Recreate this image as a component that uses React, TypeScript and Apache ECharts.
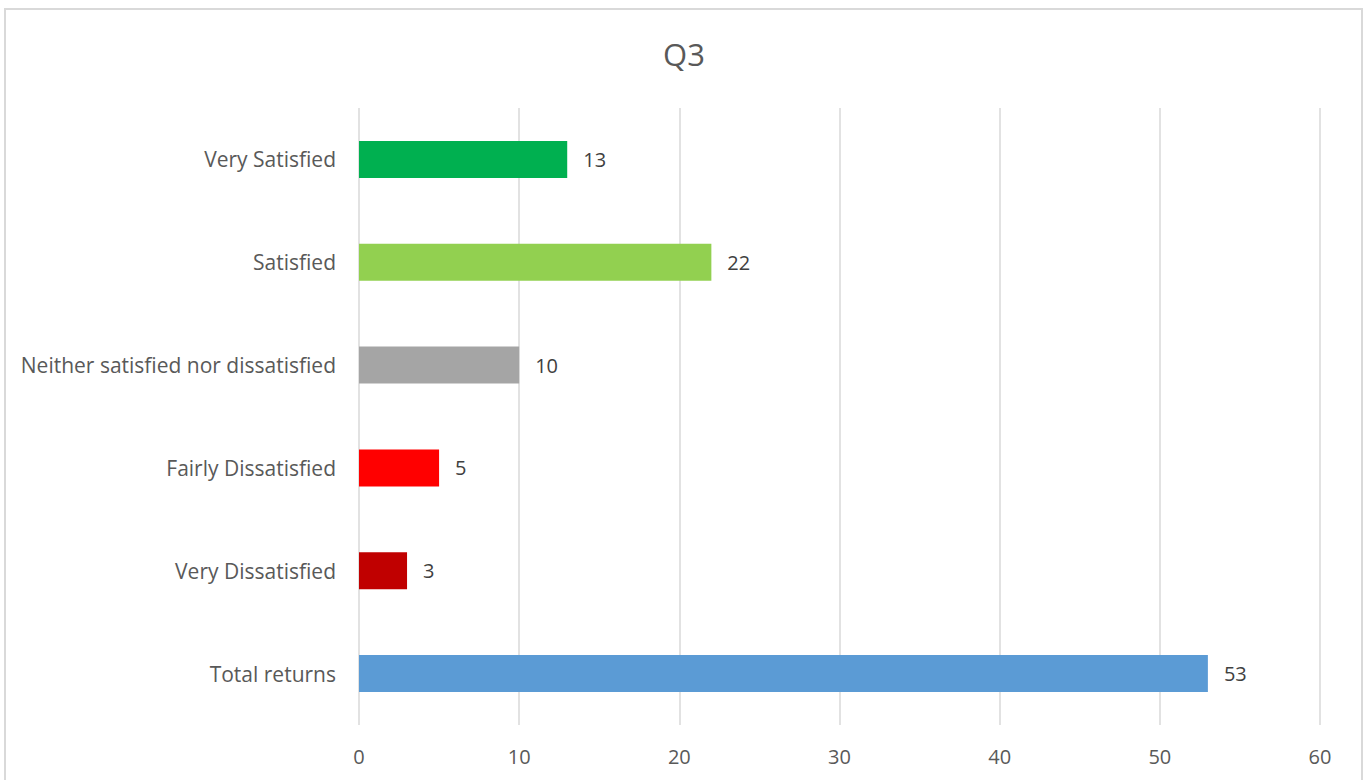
import React, { useEffect, useRef } from "react";
import * as echarts from "echarts";

const categories = [
  "Very Satisfied",
  "Satisfied",
  "Neither satisfied nor dissatisfied",
  "Fairly Dissatisfied",
  "Very Dissatisfied",
  "Total returns",
];
const values = [13, 22, 10, 5, 3, 53];
const barColors = ["#00B050", "#92D050", "#A5A5A5", "#FF0000", "#C00000", "#5B9BD5"];
const xTicks = { min: 0, max: 60, interval: 10 };
const titleText = "Q3";

export default function App() {
  const ref = useRef<HTMLDivElement>(null);
  useEffect(() => {
    if (!ref.current) return;
    const chart = echarts.init(ref.current, undefined, { renderer: "svg" });
    const font = "'Open Sans', 'Noto Sans', sans-serif";
    chart.setOption({
      animation: false,
      backgroundColor: "#ffffff",
      title: {
        text: titleText,
        left: "center",
        top: 33,
        textStyle: { fontFamily: font, fontSize: 31, fontWeight: "normal", color: "#595959" },
      },
      graphic: [
        {
          type: "rect",
          shape: { x: 5, y: 9, width: 1357, height: 800 },
          style: { fill: "none", stroke: "#D9D9D9", lineWidth: 2 },
          silent: true,
        },
      ],
      grid: { left: 359, right: 48, top: 108, bottom: 55, containLabel: false },
      xAxis: {
        type: "value",
        min: xTicks.min,
        max: xTicks.max,
        interval: xTicks.interval,
        axisLine: { show: false },
        axisTick: { show: false },
        splitLine: { show: true, lineStyle: { color: "#D9D9D9", width: 1.5 } },
        axisLabel: { fontFamily: font, fontSize: 20, color: "#595959", margin: 21 },
      },
      yAxis: {
        type: "category",
        inverse: true,
        data: categories,
        axisLine: { show: false },
        axisTick: { show: false },
        splitLine: { show: false },
        axisLabel: { fontFamily: font, fontSize: 21, color: "#595959", margin: 23 },
      },
      series: [
        {
          type: "bar",
          barWidth: 37,
          data: values.map((v, i) => ({ value: v, itemStyle: { color: barColors[i] } })),
          label: {
            show: true,
            position: "right",
            distance: 16,
            fontFamily: font,
            fontSize: 20,
            color: "#404040",
          },
        },
      ],
    });
    return () => chart.dispose();
  }, []);
  return (
    <div
      ref={ref}
      style={{ position: "fixed", left: 0, top: 0, width: 1368, height: 780 }}
    />
  );
}
